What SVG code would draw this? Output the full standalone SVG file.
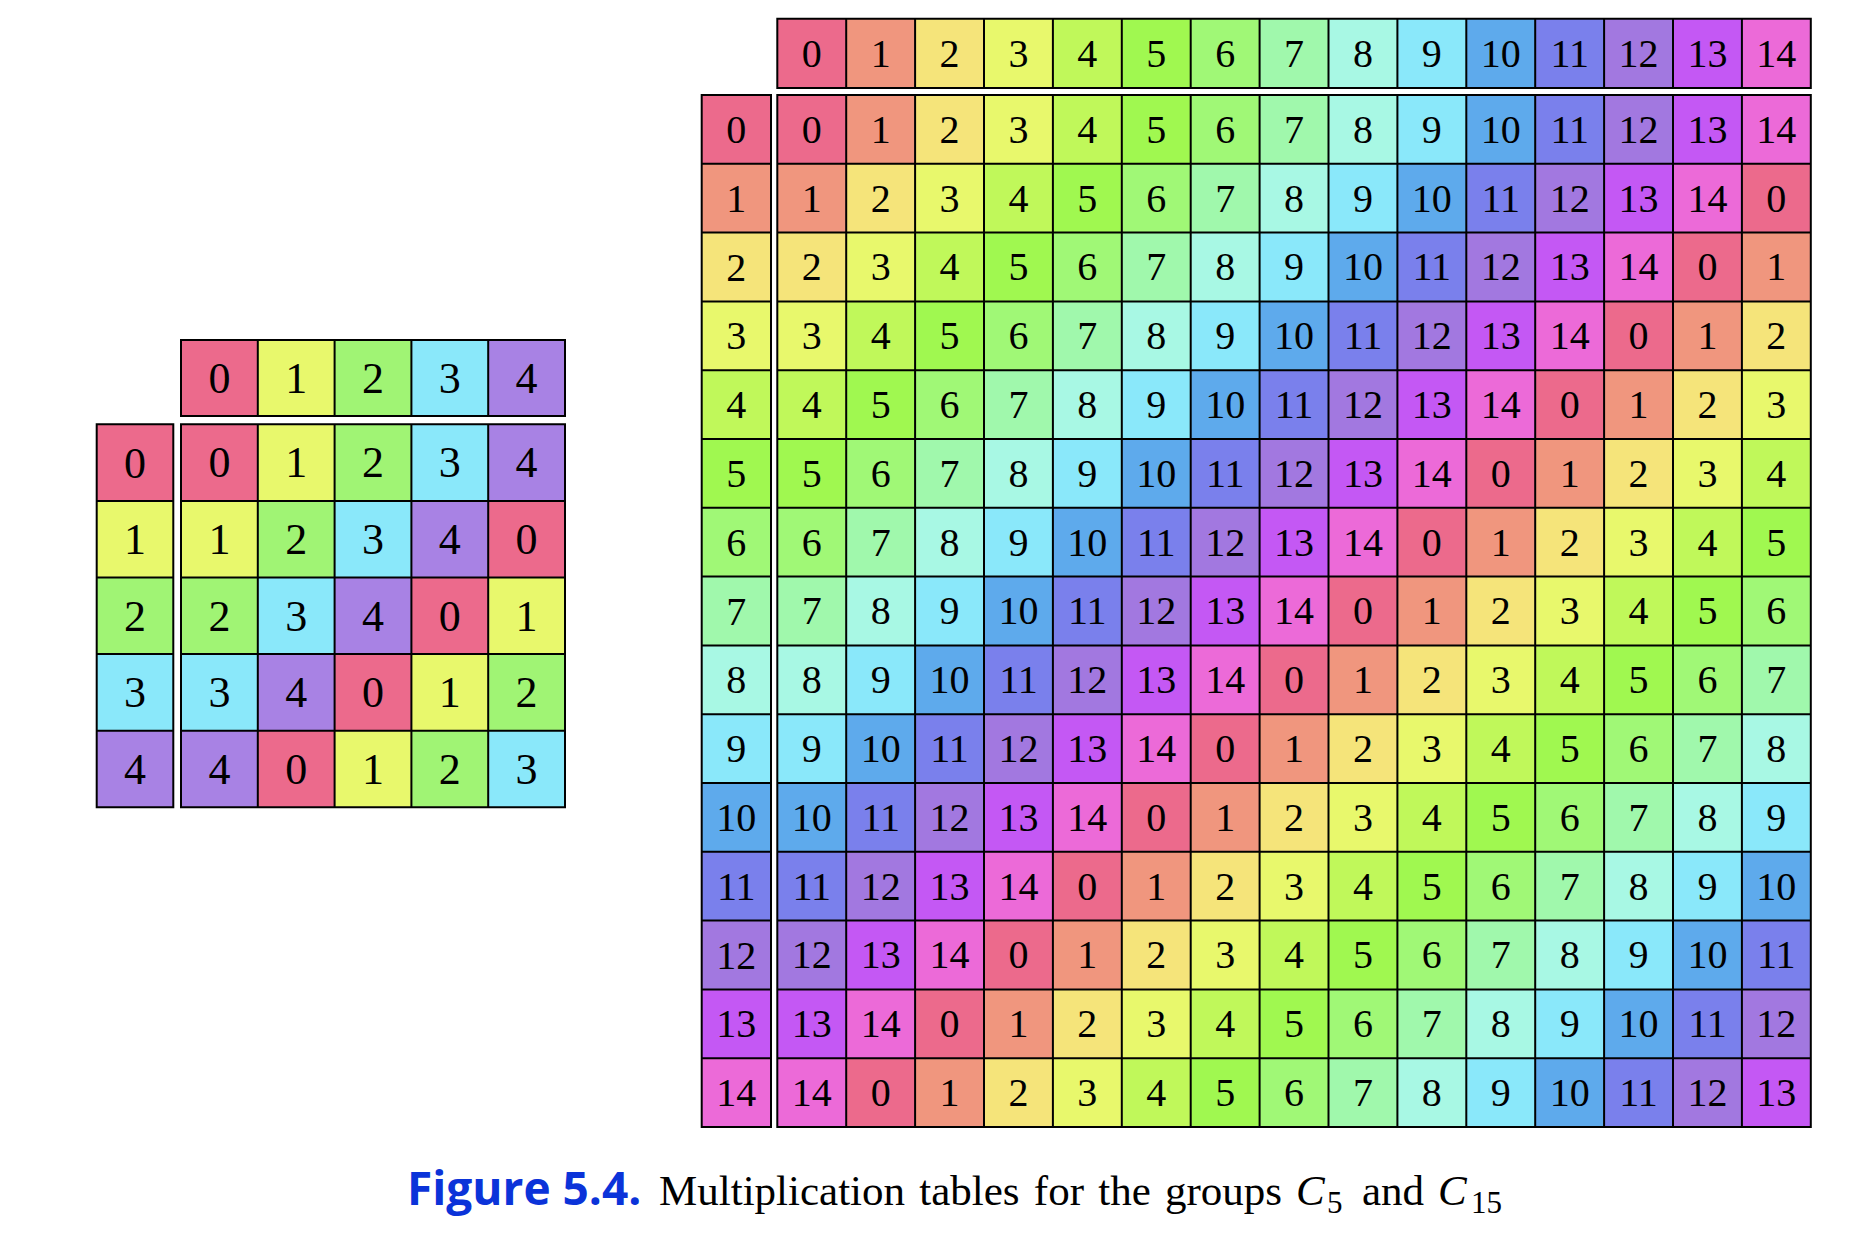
<svg xmlns="http://www.w3.org/2000/svg" width="1866" height="1250" viewBox="0 0 1866 1250">
<style>
.k0{fill:#EC6A8C}.k1{fill:#F0967E}.k2{fill:#F5E47A}.k3{fill:#E8F86C}.k4{fill:#C0F85A}.k5{fill:#A0F850}.k6{fill:#A0F876}.k7{fill:#A0F8AC}.k8{fill:#A8F8E4}.k9{fill:#8AE8FA}.k10{fill:#5EAAEC}.k11{fill:#7A80EC}.k12{fill:#A278E0}.k13{fill:#C458F4}.k14{fill:#EC6AD8}
.s0{fill:#EC6A8C}.s1{fill:#E8F86C}.s2{fill:#A0F474}.s3{fill:#8AE8FA}.s4{fill:#A882E4}
.tb text{font-family:"Liberation Serif","Times New Roman",serif;font-size:40px;text-anchor:middle;fill:#000}
.ts text{font-family:"Liberation Serif","Times New Roman",serif;font-size:44px;text-anchor:middle;fill:#000}
.grid{fill:none;stroke:#000;stroke-width:2}
.cap{font-family:"Liberation Serif","Times New Roman",serif;font-size:43px;fill:#000}
.fig{font-family:"Open Sans","Noto Sans","Liberation Sans",sans-serif;font-weight:700;font-size:46px;fill:#0B33D9}
</style>
<rect width="1866" height="1250" fill="#fff"/>

<!-- C5 table -->
<g id="c5-table" class="ts">
 <g id="c5-header" transform="translate(0,340)">
  <rect class="s0" x="181" width="76.8" height="76"/><rect class="s1" x="257.8" width="76.8" height="76"/><rect class="s2" x="334.6" width="76.8" height="76"/><rect class="s3" x="411.4" width="76.8" height="76"/><rect class="s4" x="488.2" width="76.8" height="76"/>
  <text x="219.4" y="52.9">0</text><text x="296.2" y="52.9">1</text><text x="373" y="52.9">2</text><text x="449.8" y="52.9">3</text><text x="526.6" y="52.9">4</text>
 </g>
 <g id="c5-left">
  <rect class="s0" x="96.7" y="424.3" width="76.6" height="76.6"/><rect class="s1" x="96.7" y="500.9" width="76.6" height="76.6"/><rect class="s2" x="96.7" y="577.5" width="76.6" height="76.6"/><rect class="s3" x="96.7" y="654.1" width="76.6" height="76.6"/><rect class="s4" x="96.7" y="730.7" width="76.6" height="76.6"/>
  <text x="135" y="477.5">0</text><text x="135" y="554.1">1</text><text x="135" y="630.7">2</text><text x="135" y="707.3">3</text><text x="135" y="783.9">4</text>
 </g>
 <g id="c5-body">
  <g transform="translate(0,424.3)">
   <rect class="s0" x="181" width="76.8" height="76.6"/><rect class="s1" x="257.8" width="76.8" height="76.6"/><rect class="s2" x="334.6" width="76.8" height="76.6"/><rect class="s3" x="411.4" width="76.8" height="76.6"/><rect class="s4" x="488.2" width="76.8" height="76.6"/>
   <text x="219.4" y="53.2">0</text><text x="296.2" y="53.2">1</text><text x="373" y="53.2">2</text><text x="449.8" y="53.2">3</text><text x="526.6" y="53.2">4</text>
  </g>
  <g transform="translate(0,500.9)">
   <rect class="s1" x="181" width="76.8" height="76.6"/><rect class="s2" x="257.8" width="76.8" height="76.6"/><rect class="s3" x="334.6" width="76.8" height="76.6"/><rect class="s4" x="411.4" width="76.8" height="76.6"/><rect class="s0" x="488.2" width="76.8" height="76.6"/>
   <text x="219.4" y="53.2">1</text><text x="296.2" y="53.2">2</text><text x="373" y="53.2">3</text><text x="449.8" y="53.2">4</text><text x="526.6" y="53.2">0</text>
  </g>
  <g transform="translate(0,577.5)">
   <rect class="s2" x="181" width="76.8" height="76.6"/><rect class="s3" x="257.8" width="76.8" height="76.6"/><rect class="s4" x="334.6" width="76.8" height="76.6"/><rect class="s0" x="411.4" width="76.8" height="76.6"/><rect class="s1" x="488.2" width="76.8" height="76.6"/>
   <text x="219.4" y="53.2">2</text><text x="296.2" y="53.2">3</text><text x="373" y="53.2">4</text><text x="449.8" y="53.2">0</text><text x="526.6" y="53.2">1</text>
  </g>
  <g transform="translate(0,654.1)">
   <rect class="s3" x="181" width="76.8" height="76.6"/><rect class="s4" x="257.8" width="76.8" height="76.6"/><rect class="s0" x="334.6" width="76.8" height="76.6"/><rect class="s1" x="411.4" width="76.8" height="76.6"/><rect class="s2" x="488.2" width="76.8" height="76.6"/>
   <text x="219.4" y="53.2">3</text><text x="296.2" y="53.2">4</text><text x="373" y="53.2">0</text><text x="449.8" y="53.2">1</text><text x="526.6" y="53.2">2</text>
  </g>
  <g transform="translate(0,730.7)">
   <rect class="s4" x="181" width="76.8" height="76.6"/><rect class="s0" x="257.8" width="76.8" height="76.6"/><rect class="s1" x="334.6" width="76.8" height="76.6"/><rect class="s2" x="411.4" width="76.8" height="76.6"/><rect class="s3" x="488.2" width="76.8" height="76.6"/>
   <text x="219.4" y="53.2">4</text><text x="296.2" y="53.2">0</text><text x="373" y="53.2">1</text><text x="449.8" y="53.2">2</text><text x="526.6" y="53.2">3</text>
  </g>
 </g>
 <path class="grid" d="M181 340H565V416H181Z M257.8 340V416 M334.6 340V416 M411.4 340V416 M488.2 340V416
  M96.7 424.3H173.3V807.3H96.7Z M96.7 500.9H173.3 M96.7 577.5H173.3 M96.7 654.1H173.3 M96.7 730.7H173.3
  M181 424.3H565V807.3H181Z M257.8 424.3V807.3 M334.6 424.3V807.3 M411.4 424.3V807.3 M488.2 424.3V807.3
  M181 500.9H565 M181 577.5H565 M181 654.1H565 M181 730.7H565"/>
</g>

<!-- C15 table -->
<g id="c15-table" class="tb">
 <g id="c15-header" transform="translate(0,18.7)">
  <rect class="k0" x="777.3" width="68.9" height="69.4"/><rect class="k1" x="846.2" width="68.9" height="69.4"/><rect class="k2" x="915.1" width="68.9" height="69.4"/><rect class="k3" x="984" width="68.9" height="69.4"/><rect class="k4" x="1052.9" width="68.9" height="69.4"/><rect class="k5" x="1121.8" width="68.9" height="69.4"/><rect class="k6" x="1190.7" width="68.9" height="69.4"/><rect class="k7" x="1259.6" width="68.9" height="69.4"/><rect class="k8" x="1328.5" width="68.9" height="69.4"/><rect class="k9" x="1397.4" width="68.9" height="69.4"/><rect class="k10" x="1466.3" width="68.9" height="69.4"/><rect class="k11" x="1535.2" width="68.9" height="69.4"/><rect class="k12" x="1604.1" width="68.9" height="69.4"/><rect class="k13" x="1673" width="68.9" height="69.4"/><rect class="k14" x="1741.9" width="68.9" height="69.4"/>
  <text x="811.75" y="48.2">0</text><text x="880.65" y="48.2">1</text><text x="949.55" y="48.2">2</text><text x="1018.45" y="48.2">3</text><text x="1087.35" y="48.2">4</text><text x="1156.25" y="48.2">5</text><text x="1225.15" y="48.2">6</text><text x="1294.05" y="48.2">7</text><text x="1362.95" y="48.2">8</text><text x="1431.85" y="48.2">9</text><text x="1500.75" y="48.2">10</text><text x="1569.65" y="48.2">11</text><text x="1638.55" y="48.2">12</text><text x="1707.45" y="48.2">13</text><text x="1776.35" y="48.2">14</text>
 </g>
 <g id="c15-left">
  <rect class="k0" x="701.7" y="95" width="69.3" height="68.8"/><rect class="k1" x="701.7" y="163.8" width="69.3" height="68.8"/><rect class="k2" x="701.7" y="232.6" width="69.3" height="68.8"/><rect class="k3" x="701.7" y="301.4" width="69.3" height="68.8"/><rect class="k4" x="701.7" y="370.2" width="69.3" height="68.8"/><rect class="k5" x="701.7" y="439" width="69.3" height="68.8"/><rect class="k6" x="701.7" y="507.8" width="69.3" height="68.8"/><rect class="k7" x="701.7" y="576.6" width="69.3" height="68.8"/><rect class="k8" x="701.7" y="645.4" width="69.3" height="68.8"/><rect class="k9" x="701.7" y="714.2" width="69.3" height="68.8"/><rect class="k10" x="701.7" y="783" width="69.3" height="68.8"/><rect class="k11" x="701.7" y="851.8" width="69.3" height="68.8"/><rect class="k12" x="701.7" y="920.6" width="69.3" height="68.8"/><rect class="k13" x="701.7" y="989.4" width="69.3" height="68.8"/><rect class="k14" x="701.7" y="1058.2" width="69.3" height="68.8"/>
  <text x="736.35" y="142.9">0</text><text x="736.35" y="211.7">1</text><text x="736.35" y="280.5">2</text><text x="736.35" y="349.3">3</text><text x="736.35" y="418.1">4</text><text x="736.35" y="486.9">5</text><text x="736.35" y="555.7">6</text><text x="736.35" y="624.5">7</text><text x="736.35" y="693.3">8</text><text x="736.35" y="762.1">9</text><text x="736.35" y="830.9">10</text><text x="736.35" y="899.7">11</text><text x="736.35" y="968.5">12</text><text x="736.35" y="1037.3">13</text><text x="736.35" y="1106.1">14</text>
 </g>
 <g id="c15-body">
  <g transform="translate(0,95)">
   <rect class="k0" x="777.3" width="68.9" height="68.8"/><rect class="k1" x="846.2" width="68.9" height="68.8"/><rect class="k2" x="915.1" width="68.9" height="68.8"/><rect class="k3" x="984" width="68.9" height="68.8"/><rect class="k4" x="1052.9" width="68.9" height="68.8"/><rect class="k5" x="1121.8" width="68.9" height="68.8"/><rect class="k6" x="1190.7" width="68.9" height="68.8"/><rect class="k7" x="1259.6" width="68.9" height="68.8"/><rect class="k8" x="1328.5" width="68.9" height="68.8"/><rect class="k9" x="1397.4" width="68.9" height="68.8"/><rect class="k10" x="1466.3" width="68.9" height="68.8"/><rect class="k11" x="1535.2" width="68.9" height="68.8"/><rect class="k12" x="1604.1" width="68.9" height="68.8"/><rect class="k13" x="1673" width="68.9" height="68.8"/><rect class="k14" x="1741.9" width="68.9" height="68.8"/>
   <text x="811.75" y="47.9">0</text><text x="880.65" y="47.9">1</text><text x="949.55" y="47.9">2</text><text x="1018.45" y="47.9">3</text><text x="1087.35" y="47.9">4</text><text x="1156.25" y="47.9">5</text><text x="1225.15" y="47.9">6</text><text x="1294.05" y="47.9">7</text><text x="1362.95" y="47.9">8</text><text x="1431.85" y="47.9">9</text><text x="1500.75" y="47.9">10</text><text x="1569.65" y="47.9">11</text><text x="1638.55" y="47.9">12</text><text x="1707.45" y="47.9">13</text><text x="1776.35" y="47.9">14</text>
  </g>
  <g transform="translate(0,163.8)">
   <rect class="k1" x="777.3" width="68.9" height="68.8"/><rect class="k2" x="846.2" width="68.9" height="68.8"/><rect class="k3" x="915.1" width="68.9" height="68.8"/><rect class="k4" x="984" width="68.9" height="68.8"/><rect class="k5" x="1052.9" width="68.9" height="68.8"/><rect class="k6" x="1121.8" width="68.9" height="68.8"/><rect class="k7" x="1190.7" width="68.9" height="68.8"/><rect class="k8" x="1259.6" width="68.9" height="68.8"/><rect class="k9" x="1328.5" width="68.9" height="68.8"/><rect class="k10" x="1397.4" width="68.9" height="68.8"/><rect class="k11" x="1466.3" width="68.9" height="68.8"/><rect class="k12" x="1535.2" width="68.9" height="68.8"/><rect class="k13" x="1604.1" width="68.9" height="68.8"/><rect class="k14" x="1673" width="68.9" height="68.8"/><rect class="k0" x="1741.9" width="68.9" height="68.8"/>
   <text x="811.75" y="47.9">1</text><text x="880.65" y="47.9">2</text><text x="949.55" y="47.9">3</text><text x="1018.45" y="47.9">4</text><text x="1087.35" y="47.9">5</text><text x="1156.25" y="47.9">6</text><text x="1225.15" y="47.9">7</text><text x="1294.05" y="47.9">8</text><text x="1362.95" y="47.9">9</text><text x="1431.85" y="47.9">10</text><text x="1500.75" y="47.9">11</text><text x="1569.65" y="47.9">12</text><text x="1638.55" y="47.9">13</text><text x="1707.45" y="47.9">14</text><text x="1776.35" y="47.9">0</text>
  </g>
  <g transform="translate(0,232.6)">
   <rect class="k2" x="777.3" width="68.9" height="68.8"/><rect class="k3" x="846.2" width="68.9" height="68.8"/><rect class="k4" x="915.1" width="68.9" height="68.8"/><rect class="k5" x="984" width="68.9" height="68.8"/><rect class="k6" x="1052.9" width="68.9" height="68.8"/><rect class="k7" x="1121.8" width="68.9" height="68.8"/><rect class="k8" x="1190.7" width="68.9" height="68.8"/><rect class="k9" x="1259.6" width="68.9" height="68.8"/><rect class="k10" x="1328.5" width="68.9" height="68.8"/><rect class="k11" x="1397.4" width="68.9" height="68.8"/><rect class="k12" x="1466.3" width="68.9" height="68.8"/><rect class="k13" x="1535.2" width="68.9" height="68.8"/><rect class="k14" x="1604.1" width="68.9" height="68.8"/><rect class="k0" x="1673" width="68.9" height="68.8"/><rect class="k1" x="1741.9" width="68.9" height="68.8"/>
   <text x="811.75" y="47.9">2</text><text x="880.65" y="47.9">3</text><text x="949.55" y="47.9">4</text><text x="1018.45" y="47.9">5</text><text x="1087.35" y="47.9">6</text><text x="1156.25" y="47.9">7</text><text x="1225.15" y="47.9">8</text><text x="1294.05" y="47.9">9</text><text x="1362.95" y="47.9">10</text><text x="1431.85" y="47.9">11</text><text x="1500.75" y="47.9">12</text><text x="1569.65" y="47.9">13</text><text x="1638.55" y="47.9">14</text><text x="1707.45" y="47.9">0</text><text x="1776.35" y="47.9">1</text>
  </g>
  <g transform="translate(0,301.4)">
   <rect class="k3" x="777.3" width="68.9" height="68.8"/><rect class="k4" x="846.2" width="68.9" height="68.8"/><rect class="k5" x="915.1" width="68.9" height="68.8"/><rect class="k6" x="984" width="68.9" height="68.8"/><rect class="k7" x="1052.9" width="68.9" height="68.8"/><rect class="k8" x="1121.8" width="68.9" height="68.8"/><rect class="k9" x="1190.7" width="68.9" height="68.8"/><rect class="k10" x="1259.6" width="68.9" height="68.8"/><rect class="k11" x="1328.5" width="68.9" height="68.8"/><rect class="k12" x="1397.4" width="68.9" height="68.8"/><rect class="k13" x="1466.3" width="68.9" height="68.8"/><rect class="k14" x="1535.2" width="68.9" height="68.8"/><rect class="k0" x="1604.1" width="68.9" height="68.8"/><rect class="k1" x="1673" width="68.9" height="68.8"/><rect class="k2" x="1741.9" width="68.9" height="68.8"/>
   <text x="811.75" y="47.9">3</text><text x="880.65" y="47.9">4</text><text x="949.55" y="47.9">5</text><text x="1018.45" y="47.9">6</text><text x="1087.35" y="47.9">7</text><text x="1156.25" y="47.9">8</text><text x="1225.15" y="47.9">9</text><text x="1294.05" y="47.9">10</text><text x="1362.95" y="47.9">11</text><text x="1431.85" y="47.9">12</text><text x="1500.75" y="47.9">13</text><text x="1569.65" y="47.9">14</text><text x="1638.55" y="47.9">0</text><text x="1707.45" y="47.9">1</text><text x="1776.35" y="47.9">2</text>
  </g>
  <g transform="translate(0,370.2)">
   <rect class="k4" x="777.3" width="68.9" height="68.8"/><rect class="k5" x="846.2" width="68.9" height="68.8"/><rect class="k6" x="915.1" width="68.9" height="68.8"/><rect class="k7" x="984" width="68.9" height="68.8"/><rect class="k8" x="1052.9" width="68.9" height="68.8"/><rect class="k9" x="1121.8" width="68.9" height="68.8"/><rect class="k10" x="1190.7" width="68.9" height="68.8"/><rect class="k11" x="1259.6" width="68.9" height="68.8"/><rect class="k12" x="1328.5" width="68.9" height="68.8"/><rect class="k13" x="1397.4" width="68.9" height="68.8"/><rect class="k14" x="1466.3" width="68.9" height="68.8"/><rect class="k0" x="1535.2" width="68.9" height="68.8"/><rect class="k1" x="1604.1" width="68.9" height="68.8"/><rect class="k2" x="1673" width="68.9" height="68.8"/><rect class="k3" x="1741.9" width="68.9" height="68.8"/>
   <text x="811.75" y="47.9">4</text><text x="880.65" y="47.9">5</text><text x="949.55" y="47.9">6</text><text x="1018.45" y="47.9">7</text><text x="1087.35" y="47.9">8</text><text x="1156.25" y="47.9">9</text><text x="1225.15" y="47.9">10</text><text x="1294.05" y="47.9">11</text><text x="1362.95" y="47.9">12</text><text x="1431.85" y="47.9">13</text><text x="1500.75" y="47.9">14</text><text x="1569.65" y="47.9">0</text><text x="1638.55" y="47.9">1</text><text x="1707.45" y="47.9">2</text><text x="1776.35" y="47.9">3</text>
  </g>
  <g transform="translate(0,439)">
   <rect class="k5" x="777.3" width="68.9" height="68.8"/><rect class="k6" x="846.2" width="68.9" height="68.8"/><rect class="k7" x="915.1" width="68.9" height="68.8"/><rect class="k8" x="984" width="68.9" height="68.8"/><rect class="k9" x="1052.9" width="68.9" height="68.8"/><rect class="k10" x="1121.8" width="68.9" height="68.8"/><rect class="k11" x="1190.7" width="68.9" height="68.8"/><rect class="k12" x="1259.6" width="68.9" height="68.8"/><rect class="k13" x="1328.5" width="68.9" height="68.8"/><rect class="k14" x="1397.4" width="68.9" height="68.8"/><rect class="k0" x="1466.3" width="68.9" height="68.8"/><rect class="k1" x="1535.2" width="68.9" height="68.8"/><rect class="k2" x="1604.1" width="68.9" height="68.8"/><rect class="k3" x="1673" width="68.9" height="68.8"/><rect class="k4" x="1741.9" width="68.9" height="68.8"/>
   <text x="811.75" y="47.9">5</text><text x="880.65" y="47.9">6</text><text x="949.55" y="47.9">7</text><text x="1018.45" y="47.9">8</text><text x="1087.35" y="47.9">9</text><text x="1156.25" y="47.9">10</text><text x="1225.15" y="47.9">11</text><text x="1294.05" y="47.9">12</text><text x="1362.95" y="47.9">13</text><text x="1431.85" y="47.9">14</text><text x="1500.75" y="47.9">0</text><text x="1569.65" y="47.9">1</text><text x="1638.55" y="47.9">2</text><text x="1707.45" y="47.9">3</text><text x="1776.35" y="47.9">4</text>
  </g>
  <g transform="translate(0,507.8)">
   <rect class="k6" x="777.3" width="68.9" height="68.8"/><rect class="k7" x="846.2" width="68.9" height="68.8"/><rect class="k8" x="915.1" width="68.9" height="68.8"/><rect class="k9" x="984" width="68.9" height="68.8"/><rect class="k10" x="1052.9" width="68.9" height="68.8"/><rect class="k11" x="1121.8" width="68.9" height="68.8"/><rect class="k12" x="1190.7" width="68.9" height="68.8"/><rect class="k13" x="1259.6" width="68.9" height="68.8"/><rect class="k14" x="1328.5" width="68.9" height="68.8"/><rect class="k0" x="1397.4" width="68.9" height="68.8"/><rect class="k1" x="1466.3" width="68.9" height="68.8"/><rect class="k2" x="1535.2" width="68.9" height="68.8"/><rect class="k3" x="1604.1" width="68.9" height="68.8"/><rect class="k4" x="1673" width="68.9" height="68.8"/><rect class="k5" x="1741.9" width="68.9" height="68.8"/>
   <text x="811.75" y="47.9">6</text><text x="880.65" y="47.9">7</text><text x="949.55" y="47.9">8</text><text x="1018.45" y="47.9">9</text><text x="1087.35" y="47.9">10</text><text x="1156.25" y="47.9">11</text><text x="1225.15" y="47.9">12</text><text x="1294.05" y="47.9">13</text><text x="1362.95" y="47.9">14</text><text x="1431.85" y="47.9">0</text><text x="1500.75" y="47.9">1</text><text x="1569.65" y="47.9">2</text><text x="1638.55" y="47.9">3</text><text x="1707.45" y="47.9">4</text><text x="1776.35" y="47.9">5</text>
  </g>
  <g transform="translate(0,576.6)">
   <rect class="k7" x="777.3" width="68.9" height="68.8"/><rect class="k8" x="846.2" width="68.9" height="68.8"/><rect class="k9" x="915.1" width="68.9" height="68.8"/><rect class="k10" x="984" width="68.9" height="68.8"/><rect class="k11" x="1052.9" width="68.9" height="68.8"/><rect class="k12" x="1121.8" width="68.9" height="68.8"/><rect class="k13" x="1190.7" width="68.9" height="68.8"/><rect class="k14" x="1259.6" width="68.9" height="68.8"/><rect class="k0" x="1328.5" width="68.9" height="68.8"/><rect class="k1" x="1397.4" width="68.9" height="68.8"/><rect class="k2" x="1466.3" width="68.9" height="68.8"/><rect class="k3" x="1535.2" width="68.9" height="68.8"/><rect class="k4" x="1604.1" width="68.9" height="68.8"/><rect class="k5" x="1673" width="68.9" height="68.8"/><rect class="k6" x="1741.9" width="68.9" height="68.8"/>
   <text x="811.75" y="47.9">7</text><text x="880.65" y="47.9">8</text><text x="949.55" y="47.9">9</text><text x="1018.45" y="47.9">10</text><text x="1087.35" y="47.9">11</text><text x="1156.25" y="47.9">12</text><text x="1225.15" y="47.9">13</text><text x="1294.05" y="47.9">14</text><text x="1362.95" y="47.9">0</text><text x="1431.85" y="47.9">1</text><text x="1500.75" y="47.9">2</text><text x="1569.65" y="47.9">3</text><text x="1638.55" y="47.9">4</text><text x="1707.45" y="47.9">5</text><text x="1776.35" y="47.9">6</text>
  </g>
  <g transform="translate(0,645.4)">
   <rect class="k8" x="777.3" width="68.9" height="68.8"/><rect class="k9" x="846.2" width="68.9" height="68.8"/><rect class="k10" x="915.1" width="68.9" height="68.8"/><rect class="k11" x="984" width="68.9" height="68.8"/><rect class="k12" x="1052.9" width="68.9" height="68.8"/><rect class="k13" x="1121.8" width="68.9" height="68.8"/><rect class="k14" x="1190.7" width="68.9" height="68.8"/><rect class="k0" x="1259.6" width="68.9" height="68.8"/><rect class="k1" x="1328.5" width="68.9" height="68.8"/><rect class="k2" x="1397.4" width="68.9" height="68.8"/><rect class="k3" x="1466.3" width="68.9" height="68.8"/><rect class="k4" x="1535.2" width="68.9" height="68.8"/><rect class="k5" x="1604.1" width="68.9" height="68.8"/><rect class="k6" x="1673" width="68.9" height="68.8"/><rect class="k7" x="1741.9" width="68.9" height="68.8"/>
   <text x="811.75" y="47.9">8</text><text x="880.65" y="47.9">9</text><text x="949.55" y="47.9">10</text><text x="1018.45" y="47.9">11</text><text x="1087.35" y="47.9">12</text><text x="1156.25" y="47.9">13</text><text x="1225.15" y="47.9">14</text><text x="1294.05" y="47.9">0</text><text x="1362.95" y="47.9">1</text><text x="1431.85" y="47.9">2</text><text x="1500.75" y="47.9">3</text><text x="1569.65" y="47.9">4</text><text x="1638.55" y="47.9">5</text><text x="1707.45" y="47.9">6</text><text x="1776.35" y="47.9">7</text>
  </g>
  <g transform="translate(0,714.2)">
   <rect class="k9" x="777.3" width="68.9" height="68.8"/><rect class="k10" x="846.2" width="68.9" height="68.8"/><rect class="k11" x="915.1" width="68.9" height="68.8"/><rect class="k12" x="984" width="68.9" height="68.8"/><rect class="k13" x="1052.9" width="68.9" height="68.8"/><rect class="k14" x="1121.8" width="68.9" height="68.8"/><rect class="k0" x="1190.7" width="68.9" height="68.8"/><rect class="k1" x="1259.6" width="68.9" height="68.8"/><rect class="k2" x="1328.5" width="68.9" height="68.8"/><rect class="k3" x="1397.4" width="68.9" height="68.8"/><rect class="k4" x="1466.3" width="68.9" height="68.8"/><rect class="k5" x="1535.2" width="68.9" height="68.8"/><rect class="k6" x="1604.1" width="68.9" height="68.8"/><rect class="k7" x="1673" width="68.9" height="68.8"/><rect class="k8" x="1741.9" width="68.9" height="68.8"/>
   <text x="811.75" y="47.9">9</text><text x="880.65" y="47.9">10</text><text x="949.55" y="47.9">11</text><text x="1018.45" y="47.9">12</text><text x="1087.35" y="47.9">13</text><text x="1156.25" y="47.9">14</text><text x="1225.15" y="47.9">0</text><text x="1294.05" y="47.9">1</text><text x="1362.95" y="47.9">2</text><text x="1431.85" y="47.9">3</text><text x="1500.75" y="47.9">4</text><text x="1569.65" y="47.9">5</text><text x="1638.55" y="47.9">6</text><text x="1707.45" y="47.9">7</text><text x="1776.35" y="47.9">8</text>
  </g>
  <g transform="translate(0,783)">
   <rect class="k10" x="777.3" width="68.9" height="68.8"/><rect class="k11" x="846.2" width="68.9" height="68.8"/><rect class="k12" x="915.1" width="68.9" height="68.8"/><rect class="k13" x="984" width="68.9" height="68.8"/><rect class="k14" x="1052.9" width="68.9" height="68.8"/><rect class="k0" x="1121.8" width="68.9" height="68.8"/><rect class="k1" x="1190.7" width="68.9" height="68.8"/><rect class="k2" x="1259.6" width="68.9" height="68.8"/><rect class="k3" x="1328.5" width="68.9" height="68.8"/><rect class="k4" x="1397.4" width="68.9" height="68.8"/><rect class="k5" x="1466.3" width="68.9" height="68.8"/><rect class="k6" x="1535.2" width="68.9" height="68.8"/><rect class="k7" x="1604.1" width="68.9" height="68.8"/><rect class="k8" x="1673" width="68.9" height="68.8"/><rect class="k9" x="1741.9" width="68.9" height="68.8"/>
   <text x="811.75" y="47.9">10</text><text x="880.65" y="47.9">11</text><text x="949.55" y="47.9">12</text><text x="1018.45" y="47.9">13</text><text x="1087.35" y="47.9">14</text><text x="1156.25" y="47.9">0</text><text x="1225.15" y="47.9">1</text><text x="1294.05" y="47.9">2</text><text x="1362.95" y="47.9">3</text><text x="1431.85" y="47.9">4</text><text x="1500.75" y="47.9">5</text><text x="1569.65" y="47.9">6</text><text x="1638.55" y="47.9">7</text><text x="1707.45" y="47.9">8</text><text x="1776.35" y="47.9">9</text>
  </g>
  <g transform="translate(0,851.8)">
   <rect class="k11" x="777.3" width="68.9" height="68.8"/><rect class="k12" x="846.2" width="68.9" height="68.8"/><rect class="k13" x="915.1" width="68.9" height="68.8"/><rect class="k14" x="984" width="68.9" height="68.8"/><rect class="k0" x="1052.9" width="68.9" height="68.8"/><rect class="k1" x="1121.8" width="68.9" height="68.8"/><rect class="k2" x="1190.7" width="68.9" height="68.8"/><rect class="k3" x="1259.6" width="68.9" height="68.8"/><rect class="k4" x="1328.5" width="68.9" height="68.8"/><rect class="k5" x="1397.4" width="68.9" height="68.8"/><rect class="k6" x="1466.3" width="68.9" height="68.8"/><rect class="k7" x="1535.2" width="68.9" height="68.8"/><rect class="k8" x="1604.1" width="68.9" height="68.8"/><rect class="k9" x="1673" width="68.9" height="68.8"/><rect class="k10" x="1741.9" width="68.9" height="68.8"/>
   <text x="811.75" y="47.9">11</text><text x="880.65" y="47.9">12</text><text x="949.55" y="47.9">13</text><text x="1018.45" y="47.9">14</text><text x="1087.35" y="47.9">0</text><text x="1156.25" y="47.9">1</text><text x="1225.15" y="47.9">2</text><text x="1294.05" y="47.9">3</text><text x="1362.95" y="47.9">4</text><text x="1431.85" y="47.9">5</text><text x="1500.75" y="47.9">6</text><text x="1569.65" y="47.9">7</text><text x="1638.55" y="47.9">8</text><text x="1707.45" y="47.9">9</text><text x="1776.35" y="47.9">10</text>
  </g>
  <g transform="translate(0,920.6)">
   <rect class="k12" x="777.3" width="68.9" height="68.8"/><rect class="k13" x="846.2" width="68.9" height="68.8"/><rect class="k14" x="915.1" width="68.9" height="68.8"/><rect class="k0" x="984" width="68.9" height="68.8"/><rect class="k1" x="1052.9" width="68.9" height="68.8"/><rect class="k2" x="1121.8" width="68.9" height="68.8"/><rect class="k3" x="1190.7" width="68.9" height="68.8"/><rect class="k4" x="1259.6" width="68.9" height="68.8"/><rect class="k5" x="1328.5" width="68.9" height="68.8"/><rect class="k6" x="1397.4" width="68.9" height="68.8"/><rect class="k7" x="1466.3" width="68.9" height="68.8"/><rect class="k8" x="1535.2" width="68.9" height="68.8"/><rect class="k9" x="1604.1" width="68.9" height="68.8"/><rect class="k10" x="1673" width="68.9" height="68.8"/><rect class="k11" x="1741.9" width="68.9" height="68.8"/>
   <text x="811.75" y="47.9">12</text><text x="880.65" y="47.9">13</text><text x="949.55" y="47.9">14</text><text x="1018.45" y="47.9">0</text><text x="1087.35" y="47.9">1</text><text x="1156.25" y="47.9">2</text><text x="1225.15" y="47.9">3</text><text x="1294.05" y="47.9">4</text><text x="1362.95" y="47.9">5</text><text x="1431.85" y="47.9">6</text><text x="1500.75" y="47.9">7</text><text x="1569.65" y="47.9">8</text><text x="1638.55" y="47.9">9</text><text x="1707.45" y="47.9">10</text><text x="1776.35" y="47.9">11</text>
  </g>
  <g transform="translate(0,989.4)">
   <rect class="k13" x="777.3" width="68.9" height="68.8"/><rect class="k14" x="846.2" width="68.9" height="68.8"/><rect class="k0" x="915.1" width="68.9" height="68.8"/><rect class="k1" x="984" width="68.9" height="68.8"/><rect class="k2" x="1052.9" width="68.9" height="68.8"/><rect class="k3" x="1121.8" width="68.9" height="68.8"/><rect class="k4" x="1190.7" width="68.9" height="68.8"/><rect class="k5" x="1259.6" width="68.9" height="68.8"/><rect class="k6" x="1328.5" width="68.9" height="68.8"/><rect class="k7" x="1397.4" width="68.9" height="68.8"/><rect class="k8" x="1466.3" width="68.9" height="68.8"/><rect class="k9" x="1535.2" width="68.9" height="68.8"/><rect class="k10" x="1604.1" width="68.9" height="68.8"/><rect class="k11" x="1673" width="68.9" height="68.8"/><rect class="k12" x="1741.9" width="68.9" height="68.8"/>
   <text x="811.75" y="47.9">13</text><text x="880.65" y="47.9">14</text><text x="949.55" y="47.9">0</text><text x="1018.45" y="47.9">1</text><text x="1087.35" y="47.9">2</text><text x="1156.25" y="47.9">3</text><text x="1225.15" y="47.9">4</text><text x="1294.05" y="47.9">5</text><text x="1362.95" y="47.9">6</text><text x="1431.85" y="47.9">7</text><text x="1500.75" y="47.9">8</text><text x="1569.65" y="47.9">9</text><text x="1638.55" y="47.9">10</text><text x="1707.45" y="47.9">11</text><text x="1776.35" y="47.9">12</text>
  </g>
  <g transform="translate(0,1058.2)">
   <rect class="k14" x="777.3" width="68.9" height="68.8"/><rect class="k0" x="846.2" width="68.9" height="68.8"/><rect class="k1" x="915.1" width="68.9" height="68.8"/><rect class="k2" x="984" width="68.9" height="68.8"/><rect class="k3" x="1052.9" width="68.9" height="68.8"/><rect class="k4" x="1121.8" width="68.9" height="68.8"/><rect class="k5" x="1190.7" width="68.9" height="68.8"/><rect class="k6" x="1259.6" width="68.9" height="68.8"/><rect class="k7" x="1328.5" width="68.9" height="68.8"/><rect class="k8" x="1397.4" width="68.9" height="68.8"/><rect class="k9" x="1466.3" width="68.9" height="68.8"/><rect class="k10" x="1535.2" width="68.9" height="68.8"/><rect class="k11" x="1604.1" width="68.9" height="68.8"/><rect class="k12" x="1673" width="68.9" height="68.8"/><rect class="k13" x="1741.9" width="68.9" height="68.8"/>
   <text x="811.75" y="47.9">14</text><text x="880.65" y="47.9">0</text><text x="949.55" y="47.9">1</text><text x="1018.45" y="47.9">2</text><text x="1087.35" y="47.9">3</text><text x="1156.25" y="47.9">4</text><text x="1225.15" y="47.9">5</text><text x="1294.05" y="47.9">6</text><text x="1362.95" y="47.9">7</text><text x="1431.85" y="47.9">8</text><text x="1500.75" y="47.9">9</text><text x="1569.65" y="47.9">10</text><text x="1638.55" y="47.9">11</text><text x="1707.45" y="47.9">12</text><text x="1776.35" y="47.9">13</text>
  </g>
 </g>
 <path class="grid" d="M777.3 18.7H1810.8V88.1H777.3Z M846.2 18.7V88.1 M915.1 18.7V88.1 M984 18.7V88.1 M1052.9 18.7V88.1 M1121.8 18.7V88.1 M1190.7 18.7V88.1 M1259.6 18.7V88.1 M1328.5 18.7V88.1 M1397.4 18.7V88.1 M1466.3 18.7V88.1 M1535.2 18.7V88.1 M1604.1 18.7V88.1 M1673 18.7V88.1 M1741.9 18.7V88.1
  M701.7 95H771V1127H701.7Z M701.7 163.8H771 M701.7 232.6H771 M701.7 301.4H771 M701.7 370.2H771 M701.7 439H771 M701.7 507.8H771 M701.7 576.6H771 M701.7 645.4H771 M701.7 714.2H771 M701.7 783H771 M701.7 851.8H771 M701.7 920.6H771 M701.7 989.4H771 M701.7 1058.2H771
  M777.3 95H1810.8V1127H777.3Z M846.2 95V1127 M915.1 95V1127 M984 95V1127 M1052.9 95V1127 M1121.8 95V1127 M1190.7 95V1127 M1259.6 95V1127 M1328.5 95V1127 M1397.4 95V1127 M1466.3 95V1127 M1535.2 95V1127 M1604.1 95V1127 M1673 95V1127 M1741.9 95V1127
  M777.3 163.8H1810.8 M777.3 232.6H1810.8 M777.3 301.4H1810.8 M777.3 370.2H1810.8 M777.3 439H1810.8 M777.3 507.8H1810.8 M777.3 576.6H1810.8 M777.3 645.4H1810.8 M777.3 714.2H1810.8 M777.3 783H1810.8 M777.3 851.8H1810.8 M777.3 920.6H1810.8 M777.3 989.4H1810.8 M777.3 1058.2H1810.8"/>
</g>

<!-- caption -->
<g id="caption">
 <text class="fig" x="407" y="1205">Figure 5.4.</text>
 <text class="cap" x="659" y="1205" word-spacing="3.5">Multiplication tables for the groups</text>
 <text class="cap" y="1205"><tspan x="1296" font-style="italic">C</tspan><tspan x="1327" y="1212.5" font-size="31">5</tspan><tspan x="1362" y="1205">and</tspan><tspan x="1438" font-style="italic">C</tspan><tspan x="1471" y="1212.5" font-size="31">15</tspan></text>
</g>
</svg>
